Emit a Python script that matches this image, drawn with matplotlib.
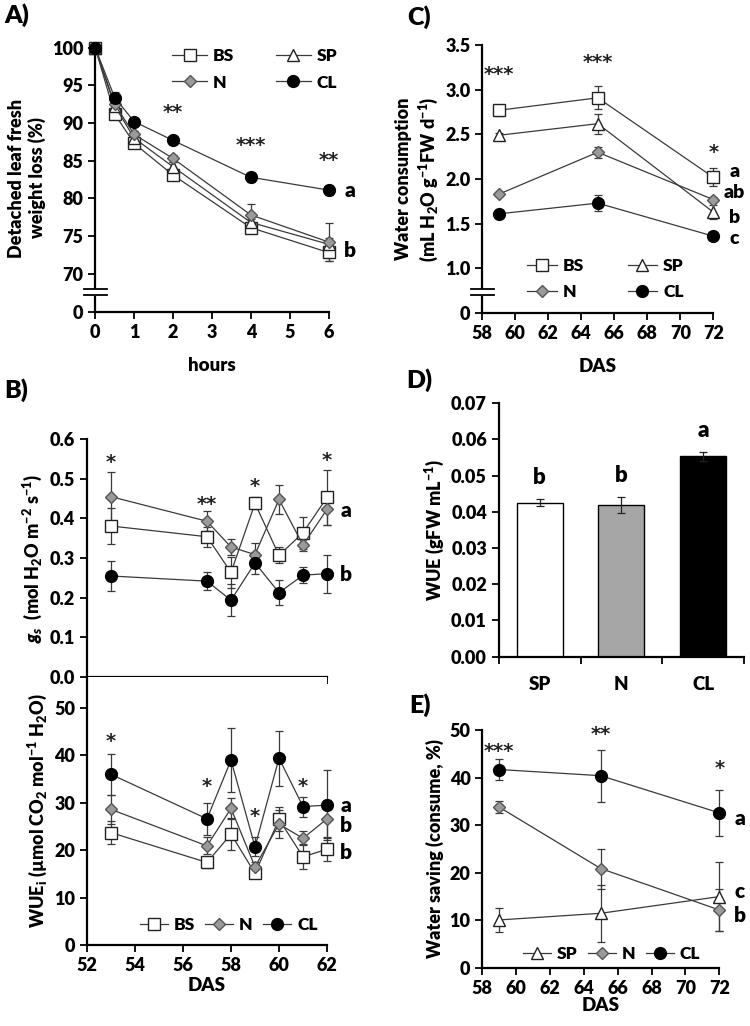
import numpy as np
import matplotlib.pyplot as plt
from matplotlib.lines import Line2D
from matplotlib.transforms import blended_transform_factory

WEIGHT = 'heavy'
plt.rcParams['font.family'] = ['Lato', 'DejaVu Sans']
plt.rcParams['font.weight'] = WEIGHT
plt.rcParams['axes.labelweight'] = WEIGHT
plt.rcParams['mathtext.fontset'] = 'custom'
plt.rcParams['mathtext.rm'] = 'Lato:' + WEIGHT
plt.rcParams['mathtext.it'] = 'Lato:italic:' + WEIGHT
plt.rcParams['mathtext.bf'] = 'Lato:' + WEIGHT
plt.rcParams['font.size'] = 12

# ---- data ----
# A) detached leaf weight loss
hours = [0, 0.5, 1, 2, 4, 6]
a_bs = [100, 91.2, 87.3, 83.1, 76.1, 72.8]
a_bs_err = [0, 0.5, 0.4, 0.5, 0.4, 1.1]
a_sp = [100, 92.3, 88.0, 84.2, 76.8, 73.9]
a_sp_err = [0, 0.6, 0.4, 0.6, 0.5, 0.8]
a_n = [100, 92.5, 88.5, 85.3, 77.8, 74.2]
a_n_err = [0, 0.7, 0.4, 0.5, 1.5, 2.5]
a_cl = [100, 93.4, 90.2, 87.7, 82.8, 81.1]
a_cl_err = [0, 0.8, 0.5, 0.5, 0.6, 0.7]
a_stars_x = [2, 4, 6]
a_stars_y = [91.4, 87.0, 85.0]
a_stars = ['**', '***', '**']
a_letters = ['a', 'b']
a_letters_y = [81.1, 73.0]

# C) water consumption
das_c = [59, 65, 72]
c_bs = [2.77, 2.91, 2.02]
c_bs_err = [0.06, 0.13, 0.10]
c_sp = [2.49, 2.62, 1.63]
c_sp_err = [0.03, 0.11, 0.08]
c_n = [1.83, 2.30, 1.77]
c_n_err = [0.02, 0.06, 0.03]
c_cl = [1.61, 1.73, 1.36]
c_cl_err = [0.02, 0.09, 0.02]
c_stars = ['***', '***', '*']
c_stars_y = [3.17, 3.31, 2.30]
c_letters = ['a', 'ab', 'b', 'c']
c_letters_y = [2.08, 1.85, 1.57, 1.33]

# B) gs and WUEi
das_b = [53, 57, 58, 59, 60, 61, 62]
gs_bs = [0.381, 0.354, 0.264, 0.438, 0.307, 0.364, 0.453]
gs_bs_err = [0.045, 0.025, 0.04, 0.015, 0.02, 0.04, 0.07]
gs_n = [0.455, 0.393, 0.328, 0.309, 0.448, 0.333, 0.423]
gs_n_err = [0.062, 0.025, 0.02, 0.03, 0.037, 0.015, 0.04]
gs_cl = [0.255, 0.242, 0.194, 0.288, 0.213, 0.257, 0.261]
gs_cl_err = [0.037, 0.022, 0.04, 0.028, 0.032, 0.02, 0.048]
gs_stars_x = [53, 57, 59, 62]
gs_stars = ['*', '**', '*', '*']
gs_stars_y = [0.54, 0.435, 0.48, 0.545]
gs_letters = ['a', 'b']
gs_letters_y = [0.42, 0.26]

wue_bs = [23.7, 17.4, 23.4, 15.1, 26.5, 18.6, 20.2]
wue_bs_err = [2.4, 1.2, 3.4, 1.0, 2.5, 2.6, 2.5]
wue_n = [28.6, 20.9, 28.8, 16.5, 25.5, 22.5, 26.6]
wue_n_err = [3.0, 1.8, 2.2, 1.0, 3.0, 1.5, 4.0]
wue_cl = [36.0, 26.6, 39.0, 20.7, 39.4, 29.2, 29.5]
wue_cl_err = [4.3, 3.3, 6.8, 2.0, 5.8, 2.1, 7.4]
wue_stars_x = [53, 57, 59, 61]
wue_stars = ['*', '*', '*', '*']
wue_stars_y = [43.0, 33.5, 27.0, 33.5]
wue_letters = ['a', 'b', 'b']
wue_letters_y = [29.5, 25.3, 19.6]

# D) whole-plant WUE
d_groups = ['SP', 'N', 'CL']
d_vals = [0.0425, 0.0418, 0.0553]
d_err = [0.0010, 0.0022, 0.0012]
d_letters = ['b', 'b', 'a']

# E) water saving
das_e = [59, 65, 72]
e_sp = [10.1, 11.5, 15.0]
e_sp_err = [2.5, 6.0, 7.3]
e_n = [33.8, 20.9, 12.2]
e_n_err = [1.3, 4.2, 4.5]
e_cl = [41.7, 40.4, 32.6]
e_cl_err = [2.2, 5.5, 4.9]
e_stars = ['***', '**', '*']
e_stars_y = [45.5, 49.0, 42.0]
e_letters = ['a', 'c', 'b']
e_letters_y = [31.5, 16.0, 11.0]

LINE = '#3a3a3a'
styles = {
    'BS': dict(marker='s', mfc='white', mec='#222222', ms=8),
    'SP': dict(marker='^', mfc='white', mec='#222222', ms=8.5),
    'N': dict(marker='D', mfc='#9a9a9a', mec='#555555', ms=6.2),
    'CL': dict(marker='o', mfc='black', mec='black', ms=8.5),
}


def series(ax, x, y, err, name):
    ax.errorbar(x, y, yerr=err, color=LINE, lw=0.9, elinewidth=0.9,
                ecolor=LINE, capsize=3, capthick=0.9,
                clip_on=False, zorder=3, **styles[name])


def handles(names):
    return [Line2D([], [], color=LINE, lw=0.9, **styles[n]) for n in names]


def stars(ax, xs, ys, labels):
    for x, y, s in zip(xs, ys, labels):
        ax.text(x, y, s, ha='center', va='center', fontsize=14,
                family='DejaVu Sans', fontweight='bold', color='#222222')


def style_axes(ax):
    for s in ['top', 'right']:
        ax.spines[s].set_visible(False)
    for s in ['left', 'bottom']:
        ax.spines[s].set_linewidth(1.6)
    ax.tick_params(direction='out', length=5, width=1.3, labelsize=13)
    for lab in ax.get_xticklabels() + ax.get_yticklabels():
        lab.set_fontweight(WEIGHT)


def axis_break(ax, y):
    tr = blended_transform_factory(ax.transAxes, ax.transData)
    ax.plot([-0.05, 0.05], [y, y], color='white', lw=5, transform=tr,
            clip_on=False, zorder=5)
    yax = ax.transLimits.transform((0, y))[1]
    for dy in [-0.011, 0.011]:
        ax.plot([-0.05, 0.05], [yax + dy, yax + dy], color='black', lw=1.3,
                transform=ax.transAxes, clip_on=False, zorder=6)


leg_kw = dict(frameon=False, borderpad=0, borderaxespad=0, fontsize=12.5,
              handletextpad=0.35, numpoints=1)

fig = plt.figure(figsize=(7.5, 10.26), dpi=100)

# ---------- A ----------
axA = fig.add_axes([0.127, 0.696, 0.311, 0.261])
series(axA, hours, a_bs, a_bs_err, 'BS')
series(axA, hours, a_sp, a_sp_err, 'SP')
series(axA, hours, a_n, a_n_err, 'N')
series(axA, hours, a_cl, a_cl_err, 'CL')
a_zero = 64.9
axA.set_ylim(a_zero, 100.5)
axA.set_xlim(0, 6)
axA.set_yticks([a_zero, 70, 75, 80, 85, 90, 95, 100])
axA.set_yticklabels(['0', '70', '75', '80', '85', '90', '95', '100'])
axA.set_xticks(range(7))
style_axes(axA)
axis_break(axA, 67.5)
axA.set_xlabel('hours', fontsize=13.5, labelpad=12)
axA.set_ylabel('Detached leaf fresh\nweight loss (%)', fontsize=13)
stars(axA, a_stars_x, a_stars_y, a_stars)
for y, s in zip(a_letters_y, a_letters):
    axA.text(6.55, y, s, ha='center', va='center', fontsize=15)
axA.legend(handles(['BS', 'N', 'SP', 'CL']), ['BS', 'N', 'SP', 'CL'], ncol=2,
           loc='upper left', bbox_to_anchor=(0.33, 0.985), handlelength=2.0,
           columnspacing=2.4, labelspacing=0.6, **leg_kw)

# ---------- C ----------
axC = fig.add_axes([0.643, 0.695, 0.308, 0.261])
series(axC, das_c, c_bs, c_bs_err, 'BS')
series(axC, das_c, c_sp, c_sp_err, 'SP')
series(axC, das_c, c_n, c_n_err, 'N')
series(axC, das_c, c_cl, c_cl_err, 'CL')
c_zero = 0.5
axC.set_ylim(c_zero, 3.5)
axC.set_xlim(58, 72)
axC.set_yticks([c_zero, 1.0, 1.5, 2.0, 2.5, 3.0, 3.5])
axC.set_yticklabels(['0', '1.0', '1.5', '2.0', '2.5', '3.0', '3.5'])
axC.set_xticks(range(58, 73, 2))
style_axes(axC)
axis_break(axC, 0.73)
axC.set_xlabel('DAS', fontsize=13.5, labelpad=12)
axC.set_ylabel('Water consumption\n(mL H$_2$O g$^{-1}$FW d$^{-1}$)', fontsize=13)
stars(axC, das_c, c_stars_y, c_stars)
for y, s in zip(c_letters_y, c_letters):
    axC.text(73.3, y, s, ha='center', va='center', fontsize=14)
axC.legend(handles(['BS', 'N', 'SP', 'CL']), ['BS', 'N', 'SP', 'CL'], ncol=2,
           loc='upper left', bbox_to_anchor=(0.195, 0.205), handlelength=1.7,
           columnspacing=2.5, labelspacing=0.6, **leg_kw)

# ---------- B (gs) ----------
axB1 = fig.add_axes([0.116, 0.340, 0.320, 0.232])
series(axB1, das_b, gs_bs, gs_bs_err, 'BS')
series(axB1, das_b, gs_n, gs_n_err, 'N')
series(axB1, das_b, gs_cl, gs_cl_err, 'CL')
axB1.set_ylim(0, 0.6)
axB1.set_xlim(52, 62)
axB1.set_xticks(range(52, 63, 2))
axB1.set_yticks(np.arange(0, 0.61, 0.1))
axB1.set_yticklabels(['%.1f' % v for v in np.arange(0, 0.61, 0.1)])
style_axes(axB1)
axB1.tick_params(axis='x', labelbottom=False)
axB1.set_ylabel('$\\mathit{g_s}$  (mol H$_2$O m$^{-2}$ s$^{-1}$)', fontsize=13)
stars(axB1, gs_stars_x, gs_stars_y, gs_stars)
for y, s in zip(gs_letters_y, gs_letters):
    axB1.text(62.8, y, s, ha='center', va='center', fontsize=15)

# ---------- B (WUEi) ----------
axB2 = fig.add_axes([0.116, 0.079, 0.320, 0.261])
series(axB2, das_b, wue_bs, wue_bs_err, 'BS')
series(axB2, das_b, wue_n, wue_n_err, 'N')
series(axB2, das_b, wue_cl, wue_cl_err, 'CL')
axB2.set_ylim(0, 56.5)
axB2.set_xlim(52, 62)
axB2.set_xticks(range(52, 63, 2))
axB2.set_yticks(range(0, 51, 10))
style_axes(axB2)
axB2.set_xlabel('DAS', fontsize=13.5, labelpad=2)
axB2.set_ylabel('WUE$_\\mathrm{i}$ (µmol CO$_2$ mol$^{-1}$ H$_2$O)', fontsize=13)
stars(axB2, wue_stars_x, wue_stars_y, wue_stars)
for y, s in zip(wue_letters_y, wue_letters):
    axB2.text(62.8, y, s, ha='center', va='center', fontsize=15)
axB2.legend(handles(['BS', 'N', 'CL']), ['BS', 'N', 'CL'], ncol=3,
            loc='center left', bbox_to_anchor=(0.22, 0.075), handlelength=1.6,
            columnspacing=0.6, **leg_kw)

# ---------- D ----------
axD = fig.add_axes([0.665, 0.360, 0.327, 0.247])
xd = np.arange(len(d_groups))
axD.bar(xd, d_vals, width=0.56, color=['white', '#a6a6a6', 'black'],
        edgecolor='black', linewidth=1.0, yerr=d_err, capsize=3,
        error_kw=dict(elinewidth=0.9, capthick=0.9, ecolor='#222222'))
axD.set_xlim(-0.5, 2.5)
axD.set_ylim(0, 0.07)
axD.set_yticks(np.arange(0, 0.071, 0.01))
axD.set_yticklabels(['%.2f' % v for v in np.arange(0, 0.071, 0.01)])
axD.set_xticks([-0.5, 0.5, 1.5, 2.5])
axD.set_xticks(xd, minor=True)
axD.set_xticklabels([])
axD.set_xticklabels(d_groups, minor=True)
axD.tick_params(axis='x', which='minor', length=0, pad=14, labelsize=13.5)
style_axes(axD)
for lab in axD.get_xticklabels(minor=True):
    lab.set_fontweight(WEIGHT)
axD.set_ylabel('WUE (gFW mL$^{-1}$)', fontsize=13)
for x, v, e, s in zip(xd, d_vals, d_err, d_letters):
    axD.text(x, v + e + 0.006, s, ha='center', va='center', fontsize=16)

# ---------- E ----------
axE = fig.add_axes([0.643, 0.0565, 0.316, 0.232])
series(axE, das_e, e_sp, e_sp_err, 'SP')
series(axE, das_e, e_n, e_n_err, 'N')
series(axE, das_e, e_cl, e_cl_err, 'CL')
axE.set_xlim(58, 72)
axE.set_ylim(0, 50)
axE.set_xticks(range(58, 73, 2))
axE.set_yticks(range(0, 51, 10))
style_axes(axE)
axE.set_xlabel('DAS', fontsize=13.5, labelpad=0)
axE.set_ylabel('Water saving (consume, %)', fontsize=13)
stars(axE, das_e, e_stars_y, e_stars)
for y, s in zip(e_letters_y, e_letters):
    axE.text(73.2, y, s, ha='center', va='center', fontsize=15)
axE.legend(handles(['SP', 'N', 'CL']), ['SP', 'N', 'CL'], ncol=3,
           loc='center left', bbox_to_anchor=(0.173, 0.059), handlelength=1.6,
           columnspacing=0.6, **leg_kw)

# panel labels
for x, y, s in [(0.006, 0.985, 'A)'), (0.543, 0.983, 'C)'), (0.006, 0.62, 'B)'),
                (0.541, 0.629, 'D)'), (0.546, 0.313, 'E)')]:
    fig.text(x, y, s, fontsize=18, fontweight=WEIGHT, va='center')

fig.savefig('out.png', dpi=100)
